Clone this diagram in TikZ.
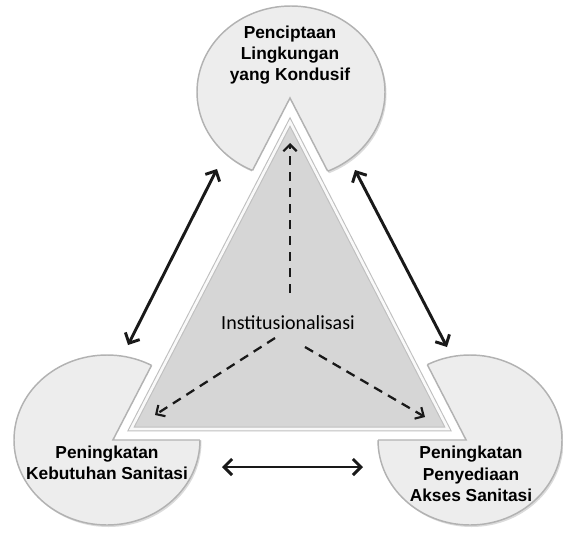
\documentclass[tikz,border=0pt]{standalone}
\usepackage{fontspec}
\setmainfont{Liberation Sans}
\newfontfamily\carlitofont{Carlito}
\usetikzlibrary{arrows.meta}
\begin{document}
\begin{tikzpicture}[x=0.75pt,y=-0.75pt,
  pieshape/.style={fill=gray!14, draw=gray!60, line width=1.1pt},
  pieshadow/.style={fill=gray!28},
  lbl/.style={font=\fontsize{13}{16}\selectfont\bfseries, align=center, text=black, inner sep=0pt},
  midlbl/.style={font=\carlitofont\fontsize{15}{18}\selectfont, text=black, inner sep=0pt},
  dbl/.style={line width=2.2pt, draw=black!90, {Straight Barb[length=6pt,width=12pt,line width=2.2pt]}-{Straight Barb[length=6pt,width=12pt,line width=2.2pt]}},
  dsh/.style={line width=1.7pt, draw=black!90, dash pattern=on 7pt off 5pt, -{Straight Barb[length=5pt,width=10pt,line width=1.6pt]}}
]
\useasboundingbox (0,0) rectangle (563,532);
% shadows
\fill[pieshadow] (292.5,94) ellipse [x radius=94, y radius=86];
\fill[pieshadow] (108.5,442) ellipse [x radius=93, y radius=85];
\fill[pieshadow] (471.5,442) ellipse [x radius=92, y radius=85];
% pies
\path[pieshape] (291,92) ellipse [x radius=94, y radius=86];
\path[pieshape] (107,440) ellipse [x radius=93, y radius=85];
\path[pieshape] (470,440) ellipse [x radius=92, y radius=85];
% notch (offset triangle)
\coordinate (oA) at (290,98);
\coordinate (oB) at (112.9,440);
\coordinate (oC) at (466.1,440);
\fill[white] (oA) -- (oB) -- (oC) -- cycle;
\begin{scope}
  \clip (291,92) ellipse [x radius=94, y radius=86]
        (107,440) ellipse [x radius=93, y radius=85]
        (470,440) ellipse [x radius=92, y radius=85];
  \draw[gray!60, line width=1.1pt] (oA) -- (oB) -- (oC) -- cycle;
\end{scope}
% central triangle
\coordinate (tA) at (290,122);
\coordinate (tB) at (131,429);
\coordinate (tC) at (448,429);
\draw[gray!50, line width=3.6pt, line join=miter, fill=gray!32] (tA) -- (tB) -- (tC) -- cycle;
\draw[white!95!gray, line width=2pt, line join=miter] (tA) -- (tB) -- (tC) -- cycle;
% labels
\node[lbl] (top) at (290,55) {Penciptaan\\Lingkungan\\yang Kondusif};
\node[lbl] (left) at (107,463) {Peningkatan\\Kebutuhan Sanitasi};
\node[lbl] (right) at (471,474) {Peningkatan\\Penyediaan\\Akses Sanitasi};
\node[midlbl] (mid) at (288,323) {Institusionalisasi};
% double arrows
\coordinate (l1) at (217,169);
\coordinate (l2) at (128,345);
\coordinate (r1) at (355,170);
\coordinate (r2) at (447,347);
\coordinate (b1) at (222,467);
\coordinate (b2) at (363,467);
\draw[dbl] (l1) -- (l2);
\draw[dbl] (r1) -- (r2);
\draw[dbl] (b1) -- (b2);
% dashed arrows
\coordinate (du0) at (290,293);
\coordinate (du1) at (290,143);
\coordinate (dl0) at (275,338);
\coordinate (dl1) at (155,415);
\coordinate (dr0) at (305,347);
\coordinate (dr1) at (425,417);
\draw[dsh] (du0) -- (du1);
\draw[dsh] (dl0) -- (dl1);
\draw[dsh] (dr0) -- (dr1);
\end{tikzpicture}
\end{document}
